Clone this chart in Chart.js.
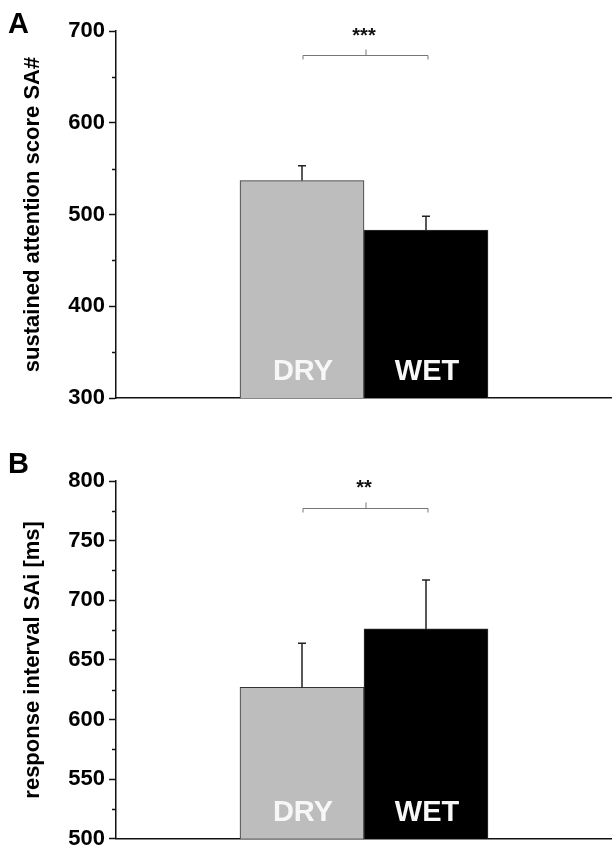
<!DOCTYPE html>
<html>
<head>
<meta charset="utf-8">
<script src="https://cdn.jsdelivr.net/npm/chart.js@4.4.1/dist/chart.umd.min.js"></script>
<style>
    html, body { margin: 0; padding: 0; background: #fff; }
    #wrap { position: relative; width: 612px; height: 856px; }
    canvas { position: absolute; left: 0; }
    #chartA { top: 0; }
    #chartB { top: 420px; }
</style>
</head>
<body>
<div id="wrap">
    <canvas id="chartA" width="612" height="420"></canvas>
    <canvas id="chartB" width="612" height="436"></canvas>
</div>
<script>
// data
const categories = ['DRY', 'WET'];
const barColors = ['#bdbdbd', '#000000'];

// panel A - sustained attention score
const scoreMean = [537, 483];
const scoreErr = [16, 15];
const scoreTicks = [300, 700, 100];   // min, max, step
const scoreStars = '***';
const scoreBracket = [674, 700];      // bracket value, star value

// panel B - response interval
const intervalMean = [627, 676];
const intervalErr = [37, 41];
const intervalTicks = [500, 800, 50];
const intervalStars = '**';
const intervalBracket = [777, 798];

const FONT = "'Liberation Sans', Arial, sans-serif";

// error bars, labels inside bars, bracket, minor ticks, panel letter
const barExtras = {
    id: 'barExtras',
    afterDraw: function (chart, args, opts) {
        const { ctx, chartArea, scales: { y } } = chart;
        const meta = chart.getDatasetMeta(0);
        const centers = [];

        ctx.save();

        // minor ticks on y axis
        ctx.strokeStyle = '#111';
        ctx.lineWidth = 1.5;
        const step = opts.step;
        for (let v = y.min + step / 2; v < y.max; v += step) {
            const py = Math.round(y.getPixelForValue(v)) + 0.5;
            ctx.beginPath();
            ctx.moveTo(chartArea.left - 4, py);
            ctx.lineTo(chartArea.left, py);
            ctx.stroke();
        }

        meta.data.forEach((bar, index) => {
            const k = index - 1;
            if (k < 0 || k >= categories.length) return;
            centers.push(bar.x);

            // error bar (upper only)
            const top = y.getPixelForValue(opts.mean[k] + opts.err[k]);
            ctx.strokeStyle = '#222';
            ctx.lineWidth = 1.5;
            ctx.beginPath();
            ctx.moveTo(bar.x, bar.y);
            ctx.lineTo(bar.x, top);
            ctx.moveTo(bar.x - 4, top);
            ctx.lineTo(bar.x + 4, top);
            ctx.stroke();

            // category label inside bar
            ctx.font = 'bold 29px ' + FONT;
            ctx.fillStyle = '#f7f7f7';
            ctx.textAlign = 'center';
            ctx.textBaseline = 'alphabetic';
            ctx.fillText(categories[k], bar.x + 1, chartArea.bottom - 18);
        });

        // significance bracket
        const by = Math.round(y.getPixelForValue(opts.bracket[0])) + 0.5;
        const mid = (centers[0] + centers[1]) / 2;
        ctx.strokeStyle = '#777';
        ctx.lineWidth = 1;
        ctx.beginPath();
        ctx.moveTo(centers[0] + 1, by + 4);
        ctx.lineTo(centers[0] + 1, by);
        ctx.lineTo(centers[1] + 2, by);
        ctx.lineTo(centers[1] + 2, by + 4);
        ctx.moveTo(mid + 2, by);
        ctx.lineTo(mid + 2, by - 6);
        ctx.stroke();

        ctx.font = 'bold 20px ' + FONT;
        ctx.fillStyle = '#111';
        ctx.textAlign = 'center';
        ctx.textBaseline = 'alphabetic';
        ctx.fillText(opts.stars, mid, y.getPixelForValue(opts.bracket[1]) + 11);

        // panel letter
        ctx.font = 'bold 29px ' + FONT;
        ctx.textAlign = 'left';
        ctx.fillStyle = '#000';
        ctx.fillText(opts.panel, 8, opts.letterY);

        ctx.restore();
    }
};

function makeChart(canvasId, mean, err, ticks, title, stars, bracket, panel, padTop, padBottom, letterY) {
    const labels = [''].concat(categories).concat(['']);
    const data = [null].concat(mean).concat([null]);
    const colors = ['#fff'].concat(barColors).concat(['#fff']);

    return new Chart(document.getElementById(canvasId).getContext('2d'), {
        type: 'bar',
        data: {
            labels: labels,
            datasets: [{
                data: data,
                backgroundColor: colors,
                borderColor: '#333',
                borderWidth: 1,
                borderSkipped: 'bottom',
                barPercentage: 1,
                categoryPercentage: 1
            }]
        },
        plugins: [barExtras],
        options: {
            responsive: false,
            animation: false,
            devicePixelRatio: 1,
            layout: { padding: { top: padTop, bottom: padBottom, left: 0, right: 0 } },
            plugins: {
                legend: { display: false },
                tooltip: { enabled: false },
                barExtras: {
                    mean: mean,
                    err: err,
                    step: ticks[2],
                    stars: stars,
                    bracket: bracket,
                    panel: panel,
                    letterY: letterY
                }
            },
            scales: {
                x: {
                    ticks: { display: false },
                    grid: { display: false, drawTicks: false },
                    border: { display: true, color: '#111', width: 1.5 }
                },
                y: {
                    min: ticks[0],
                    max: ticks[1],
                    afterFit: function (scale) { scale.width = 116; },
                    ticks: {
                        stepSize: ticks[2],
                        padding: 4,
                        color: '#000',
                        font: { family: FONT, size: 22, weight: 'bold' }
                    },
                    grid: {
                        drawOnChartArea: false,
                        drawTicks: true,
                        tickLength: 7,
                        tickWidth: 1.5,
                        tickColor: '#111'
                    },
                    border: { display: true, color: '#111', width: 1.5 },
                    title: {
                        display: true,
                        text: title,
                        color: '#000',
                        padding: { top: 20, bottom: 0 },
                        font: { family: FONT, size: 22, weight: 'bold' }
                    }
                }
            }
        }
    });
}

makeChart('chartA', scoreMean, scoreErr, scoreTicks, 'sustained attention score SA#',
    scoreStars, scoreBracket, 'A', 31, 22, 33);
makeChart('chartB', intervalMean, intervalErr, intervalTicks, 'response interval SAi [ms]',
    intervalStars, intervalBracket, 'B', 61, 8, 53);
</script>
</body>
</html>
